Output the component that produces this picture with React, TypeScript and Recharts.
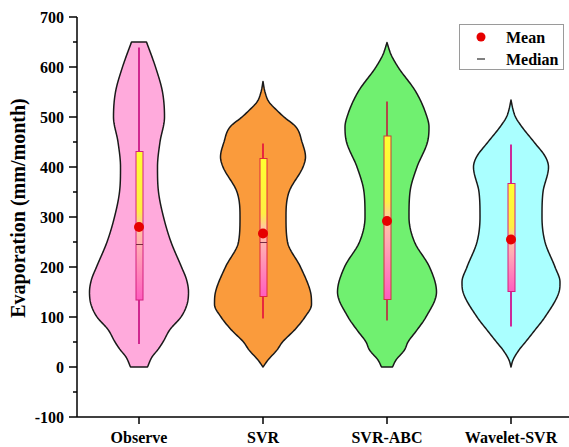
import React from 'react';
import { ComposedChart, Bar, Scatter, XAxis, YAxis, Legend } from 'recharts';

const SERIF = '"Liberation Serif", "Times New Roman", serif';

// ---------- data ----------
const categories = ['Observe', 'SVR', 'SVR-ABC', 'Wavelet-SVR'];
const violinMin = [0, 0, 0, 0];
const violinMax = [650, 571, 649, 534];
const whiskerLow = [46, 97, 93, 81];
const whiskerHigh = [639, 447, 531, 445];
const q1 = [134, 141, 135, 151];
const q3 = [431, 417, 462, 367];
const medians = [245, 249, 290, 257];
const means = [280, 267, 292, 255];

// relative kernel density (half-width, 1 = widest) at sampled evaporation levels
const observeLevels = [0, 20, 35, 50, 75, 100, 125, 150, 175, 200, 250, 300, 350, 400, 450, 500, 550, 600, 650];
const observeDensity = [0.17, 0.26, 0.38, 0.48, 0.62, 0.84, 0.96, 0.99, 0.95, 0.85, 0.64, 0.49, 0.39, 0.37, 0.42, 0.51, 0.47, 0.33, 0.15];
const svrLevels = [0, 14, 34, 50, 75, 100, 125, 150, 200, 250, 300, 350, 400, 420, 450, 480, 500, 515, 530, 550, 571];
const svrDensity = [0, 0.1, 0.28, 0.39, 0.64, 0.84, 0.97, 0.95, 0.75, 0.49, 0.46, 0.52, 0.8, 0.85, 0.78, 0.66, 0.42, 0.26, 0.12, 0.04, 0];
const svrAbcLevels = [0, 14, 34, 50, 74, 100, 150, 200, 250, 300, 350, 400, 450, 480, 500, 550, 600, 625, 649];
const svrAbcDensity = [0.11, 0.18, 0.35, 0.42, 0.6, 0.78, 0.99, 0.85, 0.55, 0.44, 0.46, 0.6, 0.81, 0.84, 0.8, 0.58, 0.22, 0.08, 0];
const waveletLevels = [0, 14, 34, 50, 74, 100, 150, 170, 200, 250, 300, 350, 400, 420, 450, 480, 500, 515, 534];
const waveletDensity = [0, 0.04, 0.16, 0.29, 0.48, 0.68, 0.96, 0.98, 0.88, 0.68, 0.62, 0.64, 0.75, 0.69, 0.46, 0.22, 0.09, 0.04, 0];

const yMajorTicks = [-100, 0, 100, 200, 300, 400, 500, 600, 700];
const yMinorTicks = [-50, 50, 150, 250, 350, 450, 550, 650];
const legendLabels = ['Mean', 'Median'];

// ---------- styles ----------
const densityLevels = [observeLevels, svrLevels, svrAbcLevels, waveletLevels];
const densityValues = [observeDensity, svrDensity, svrAbcDensity, waveletDensity];
const violinFill = ['#ffaadc', '#fa9b3c', '#70f070', '#aaffff'];
const whiskerColor = ['#d02890', '#e8283c', '#b04848', '#cc2a9a'];
const boxStroke = ['#d4207f', '#e0283c', '#c83c3c', '#d4207f'];

const rows = categories.map((name, i) => ({
  name,
  index: i,
  violin: [violinMin[i], violinMax[i]],
  whisker: [whiskerLow[i], whiskerHigh[i]],
  box: [q1[i], q3[i]],
  median: medians[i],
  mean: means[i],
}));

const yTicks = [...yMajorTicks, ...yMinorTicks].sort((a, b) => a - b);

// monotone cubic (Fritsch-Carlson) for a smooth violin outline
function monotone(xs: number[], ys: number[]) {
  const n = xs.length;
  const d: number[] = [];
  const m: number[] = new Array(n).fill(0);
  for (let i = 0; i < n - 1; i++) d.push((ys[i + 1] - ys[i]) / (xs[i + 1] - xs[i]));
  m[0] = d[0];
  m[n - 1] = d[n - 2];
  for (let i = 1; i < n - 1; i++) {
    m[i] = d[i - 1] * d[i] <= 0 ? 0 : (d[i - 1] + d[i]) / 2;
  }
  for (let i = 0; i < n - 1; i++) {
    if (d[i] === 0) {
      m[i] = 0;
      m[i + 1] = 0;
    } else {
      const a = m[i] / d[i];
      const b = m[i + 1] / d[i];
      const s = a * a + b * b;
      if (s > 9) {
        const t = 3 / Math.sqrt(s);
        m[i] = t * a * d[i];
        m[i + 1] = t * b * d[i];
      }
    }
  }
  return (x: number) => {
    let k = 0;
    while (k < n - 2 && x > xs[k + 1]) k++;
    const h = xs[k + 1] - xs[k];
    const t = Math.min(1, Math.max(0, (x - xs[k]) / h));
    const t2 = t * t;
    const t3 = t2 * t;
    return (
      (2 * t3 - 3 * t2 + 1) * ys[k] +
      (t3 - 2 * t2 + t) * h * m[k] +
      (-2 * t3 + 3 * t2) * ys[k + 1] +
      (t3 - t2) * h * m[k + 1]
    );
  };
}

function ViolinShape(props: any) {
  const { x, y, width, height, payload } = props;
  const i = payload.index;
  const [lo, hi] = payload.violin;
  const top = Math.min(y, y + height);
  const h = Math.abs(height);
  const toPx = (v: number) => top + (h * (hi - v)) / (hi - lo);
  const cx = x + width / 2;
  const half = width / 2;
  const f = monotone(densityLevels[i], densityValues[i]);
  const steps = 200;
  const right: number[][] = [];
  for (let s = 0; s <= steps; s++) {
    const v = lo + ((hi - lo) * s) / steps;
    right.push([cx + Math.max(0, f(v)) * half, toPx(v)]);
  }
  const left = right.map(([px, py]) => [2 * cx - px, py]).reverse();
  const pts = [...right, ...left];
  const d = 'M' + pts.map((p) => p[0].toFixed(2) + ',' + p[1].toFixed(2)).join('L') + 'Z';
  return <path d={d} fill={violinFill[i]} stroke="#1a1a1a" strokeWidth={1.5} strokeLinejoin="round" />;
}

function WhiskerShape(props: any) {
  const { x, y, width, height, payload } = props;
  const top = Math.min(y, y + height);
  return <rect x={x} y={top} width={width} height={Math.abs(height)} fill={whiskerColor[payload.index]} />;
}

function BoxShape(props: any) {
  const { x, y, width, height, payload } = props;
  const i = payload.index;
  const [b1, b3] = payload.box;
  const top = Math.min(y, y + height);
  const h = Math.abs(height);
  const my = top + (h * (b3 - payload.median)) / (b3 - b1);
  return (
    <g>
      <rect x={x} y={top} width={width} height={h} fill="url(#boxGrad)" stroke={boxStroke[i]} strokeWidth={1} />
      <line x1={x} x2={x + width} y1={my} y2={my} stroke="#7a2a40" strokeWidth={1} />
    </g>
  );
}

function MeanDot(props: any) {
  const { cx, cy } = props;
  return <circle cx={cx} cy={cy} r={5} fill="#e60000" />;
}

function YTick(props: any) {
  const { x, y, payload } = props;
  const v = payload.value;
  const major = v % 100 === 0;
  return (
    <g>
      <line x1={x - (major ? 8 : 4)} x2={x} y1={y} y2={y} stroke="#000" strokeWidth={1.5} />
      {major && (
        <text x={x - 13} y={y} dy="0.35em" textAnchor="end" fontFamily={SERIF} fontWeight="bold" fontSize={16} fill="#000">
          {v}
        </text>
      )}
    </g>
  );
}

function YLabel(props: any) {
  const vb = props.viewBox || { x: 0, y: 17, width: 77, height: 400 };
  const cx = vb.x + 18;
  const cy = vb.y + vb.height / 2 - 9;
  return (
    <text
      x={cx}
      y={cy}
      transform={`rotate(-90 ${cx} ${cy})`}
      textAnchor="middle"
      dominantBaseline="central"
      fontFamily={SERIF}
      fontWeight="bold"
      fontSize={20}
      fill="#000"
    >
      Evaporation (mm/month)
    </text>
  );
}

function LegendBox() {
  return (
    <div
      style={{
        width: 105,
        height: 46,
        border: '1px solid #9a9a9a',
        background: '#fff',
        boxSizing: 'border-box',
        position: 'relative',
      }}
    >
      <svg width={103} height={44} style={{ position: 'absolute', left: 0, top: 0 }}>
        <circle cx={21} cy={12} r={4.5} fill="#e60000" />
        <line x1={17} x2={25} y1={34} y2={34} stroke="#000" strokeWidth={1} />
        <text x={46} y={12} dy="0.35em" fontFamily={SERIF} fontWeight="bold" fontSize={16} fill="#000">
          {legendLabels[0]}
        </text>
        <text x={46} y={34} dy="0.35em" fontFamily={SERIF} fontWeight="bold" fontSize={16} fill="#000">
          {legendLabels[1]}
        </text>
      </svg>
    </div>
  );
}

export default function App() {
  return (
    <div style={{ position: 'absolute', left: 0, top: 0, width: 569, height: 447, overflow: 'hidden', background: '#fff' }}>
      <ComposedChart width={573} height={447} data={rows} margin={{ top: 17, right: 0, bottom: 0, left: 0 }}>
        <defs>
          <linearGradient id="boxGrad" x1="0" y1="0" x2="0" y2="1">
            <stop offset="0" stopColor="#ffff30" />
            <stop offset="0.4" stopColor="#ffee44" />
            <stop offset="0.5" stopColor="#ffc8a0" />
            <stop offset="0.65" stopColor="#ffaab4" />
            <stop offset="1" stopColor="#ff5cc0" />
          </linearGradient>
        </defs>
        <XAxis
          xAxisId="main"
          dataKey="name"
          type="category"
          height={30}
          axisLine={{ stroke: '#000', strokeWidth: 1.5 }}
          tickLine={{ stroke: '#000', strokeWidth: 1.5 }}
          tickSize={7}
          tickMargin={8}
          tick={{ fontFamily: SERIF, fontWeight: 'bold', fontSize: 16, fill: '#000' }}
          interval={0}
        />
        <XAxis xAxisId="wh" dataKey="name" type="category" orientation="top" height={0} hide />
        <XAxis xAxisId="bx" dataKey="name" type="category" orientation="top" height={0} hide />
        <YAxis
          type="number"
          domain={[-100, 700]}
          ticks={yTicks}
          interval={0}
          allowDataOverflow
          width={77}
          axisLine={{ stroke: '#000', strokeWidth: 1.5 }}
          tickLine={false}
          tickSize={0}
          tickMargin={0}
          tick={<YTick />}
          label={<YLabel />}
        />
        <Bar xAxisId="main" dataKey="violin" barSize={100} shape={<ViolinShape />} isAnimationActive={false} />
        <Bar xAxisId="wh" dataKey="whisker" barSize={2} shape={<WhiskerShape />} isAnimationActive={false} />
        <Bar xAxisId="bx" dataKey="box" barSize={7} shape={<BoxShape />} isAnimationActive={false} />
        <Scatter xAxisId="main" dataKey="mean" shape={<MeanDot />} isAnimationActive={false} />
        <Legend
          layout="horizontal"
          verticalAlign="middle"
          align="center"
          content={<LegendBox />}
          wrapperStyle={{ position: 'absolute', left: 459, top: 24, width: 105, height: 46 }}
        />
      </ComposedChart>
    </div>
  );
}
